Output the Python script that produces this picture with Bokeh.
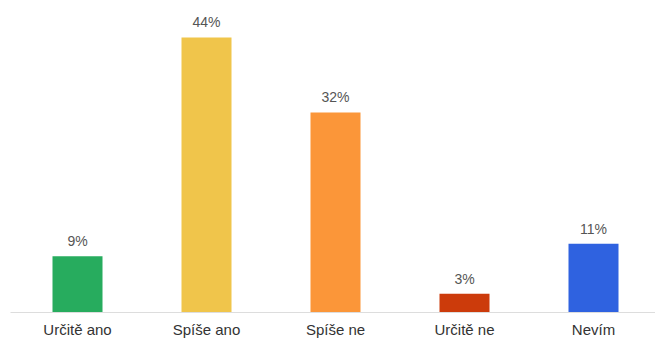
from bokeh.plotting import figure
from bokeh.models import ColumnDataSource, Range1d, FixedTicker
from bokeh.core.properties import value
from bokeh.embed import file_html
from bokeh.resources import INLINE

categories = ["Určitě ano", "Spíše ano", "Spíše ne", "Určitě ne", "Nevím"]
values = [9, 44, 32, 3, 11]
colors = ["#27ac5e", "#f0c54b", "#fb9639", "#cc3b0b", "#2f62e0"]
labels = [f"{v}%" for v in values]

x = list(range(len(categories)))
src = ColumnDataSource(dict(x=x, top=values, color=colors, label=labels))

p = figure(width=655, height=338, output_backend="svg", toolbar_location=None,
           x_range=Range1d(-67/129, -67/129 + 645/129), y_range=Range1d(0, 49.9),
           min_border_left=10, min_border_right=0, min_border_top=0, min_border_bottom=0)
p.frame_width = 645
p.frame_height = 312
p.outline_line_color = None
p.background_fill_color = "white"
p.border_fill_color = "white"

p.vbar(x="x", top="top", width=50/129, color="color", source=src, line_color=None)
p.text(x="x", y="top", text="label", source=src, text_align="center",
       text_baseline="bottom", y_offset=-7, text_font=value("Liberation Sans"),
       text_font_size="14px", text_color="#555555")

p.xgrid.visible = False
p.ygrid.visible = False
p.yaxis.visible = False
p.xaxis.ticker = FixedTicker(ticks=x)
p.xaxis.major_label_overrides = {i: c for i, c in enumerate(categories)}
p.xaxis.major_tick_line_color = None
p.xaxis.minor_tick_line_color = None
p.xaxis.major_tick_out = 0
p.xaxis.major_tick_in = 0
p.xaxis.minor_tick_out = 0
p.xaxis.axis_line_color = "#dddddd"
p.xaxis.major_label_text_font = "Liberation Sans"
p.xaxis.major_label_text_font_size = "15px"
p.xaxis.major_label_text_color = "#333333"
p.xaxis.major_label_standoff = 8

open("out.html", "w").write(file_html(p, INLINE))
